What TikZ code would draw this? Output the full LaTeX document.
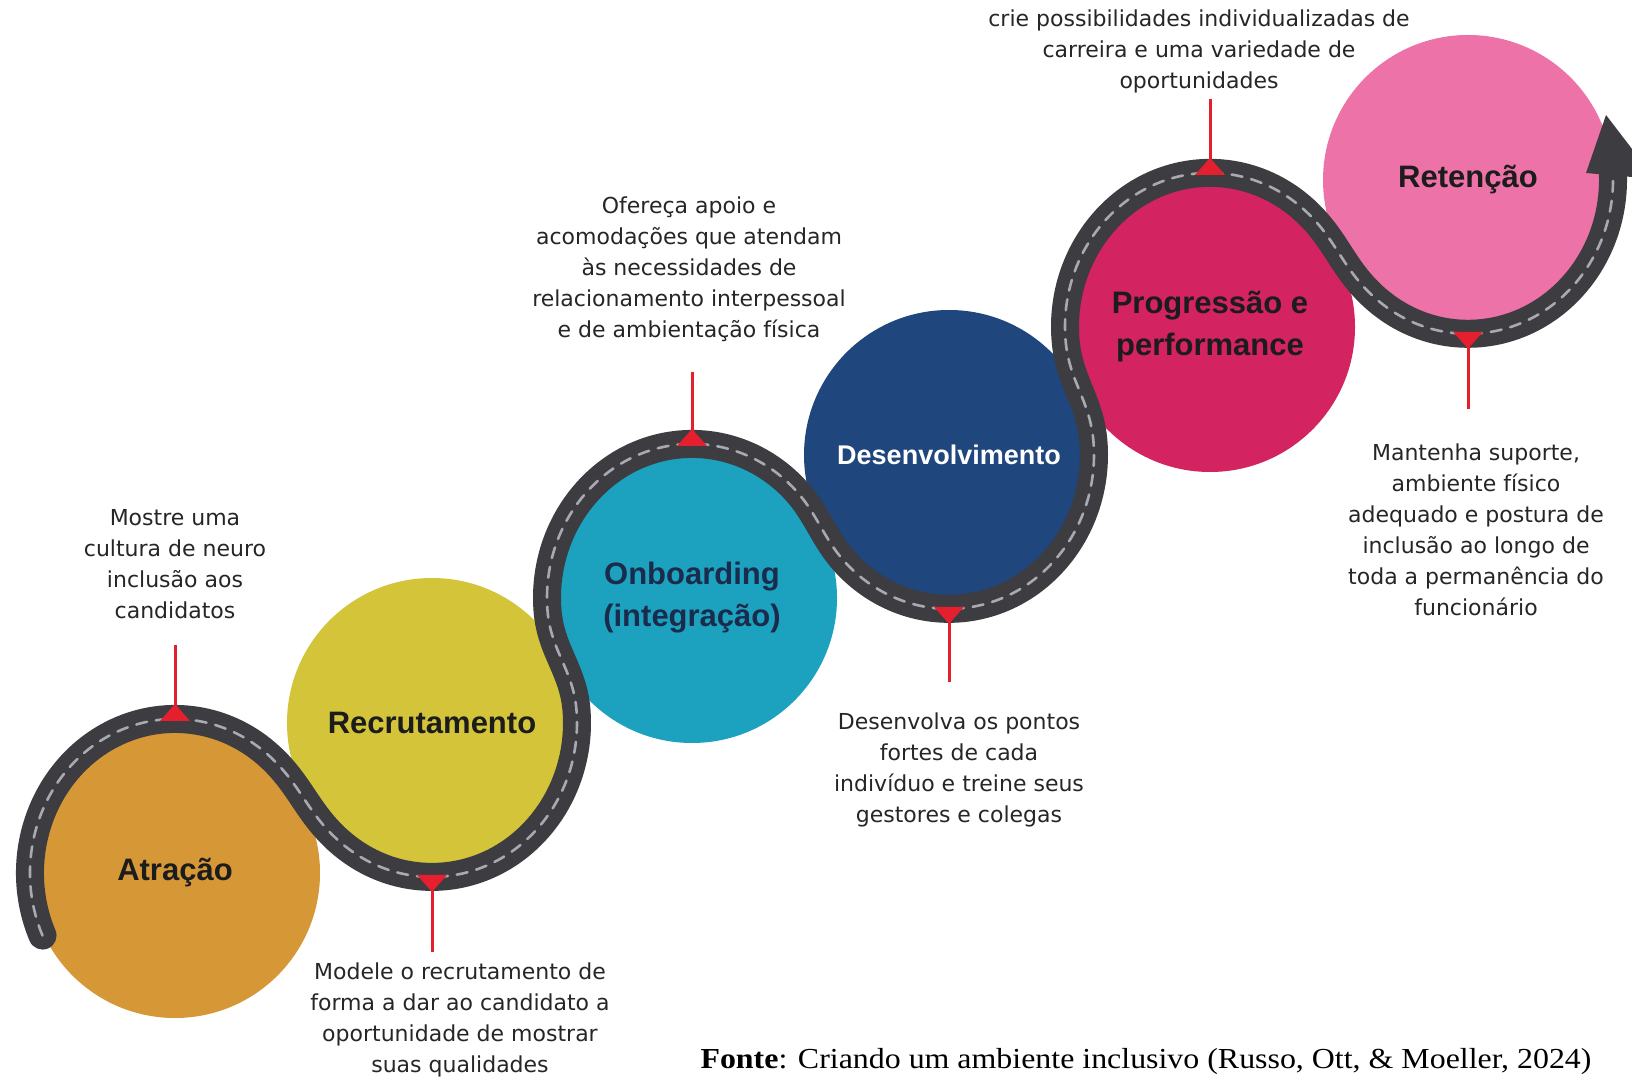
\documentclass[tikz,border=0pt]{standalone}
\usepackage{fontspec}
\usepackage{graphicx}
\setmainfont{Liberation Sans}
\newfontfamily\bodyf{DejaVu Sans}
\newfontfamily\labf{Liberation Sans}
\newfontfamily\capf{Liberation Serif}
\usetikzlibrary{calc}
\definecolor{cA}{HTML}{D69836}
\definecolor{cB}{HTML}{D4C43A}
\definecolor{cC}{HTML}{1CA2BE}
\definecolor{cD}{HTML}{1F467D}
\definecolor{cE}{HTML}{D32360}
\definecolor{cF}{HTML}{EC72A8}
\definecolor{roadc}{HTML}{3C3C41}
\definecolor{dashc}{HTML}{A9A9B2}
\definecolor{markred}{HTML}{E5202E}
\definecolor{bodyc}{HTML}{262626}
\definecolor{labdark}{HTML}{1C1C1C}
\definecolor{labnavy}{HTML}{1B2B4B}
\begin{document}
\begin{tikzpicture}[x=1pt,y=1pt,
  stage/.style={circle, minimum size=290pt, inner sep=0pt, align=center,
    font=\labf\bfseries\fontsize{31}{42}\selectfont, text=labdark},
  bodytxt/.style={font=\bodyf\fontsize{22}{31}\selectfont, text=bodyc, align=center, inner sep=0pt},
  roadline/.style={draw=roadc, line width=28pt, line cap=round,
    postaction={draw=dashc, line width=2.6pt, dash pattern=on 11pt off 9pt}},
  redline/.style={draw=markred, line width=3pt},
  redtri/.style={fill=markred}]
\useasboundingbox (0,0) rectangle (1632,1077);
\clip (0,0) rectangle (1632,1077);
\fill[white] (0,0) rectangle (1632,1077);

% stages
\node[stage, fill=cA] (A) at (175,204) {Atração};
\node[stage, fill=cB] (B) at (432,354) {Recrutamento};
\node[stage, fill=cC, text=labnavy] (C) at (692,479) {Onboarding\\(integração)};
\node[stage, fill=cD, text=white, font=\labf\bfseries\fontsize{27}{32}\selectfont] (D) at (949,622) {Desenvolvimento};
\node[stage, fill=cE] (E) at (1210,750) {Progressão e\\performance};
\node[stage, fill=cF] (F) at (1468,897) {Retenção};

% road geometry (circles of radius 145, stretched vertically)
\def\ys{1.062}
\pgfmathsetmacro{\rr}{145}
\pgfmathsetmacro{\g}{20}
\pgfmathsetmacro{\pAB}{atan2((354-204)/\ys,432-175)}
\pgfmathsetmacro{\pBC}{atan2((479-354)/\ys,692-432)}
\pgfmathsetmacro{\pCD}{atan2((622-479)/\ys,949-692)}
\pgfmathsetmacro{\pDE}{atan2((750-622)/\ys,1210-949)}
\pgfmathsetmacro{\pEF}{atan2((897-750)/\ys,1468-1210)}
\pgfmathsetmacro{\tAo}{\pAB+\g}
\pgfmathsetmacro{\tBi}{\tAo+180}
\pgfmathsetmacro{\tBo}{\pBC-\g+360}
\pgfmathsetmacro{\tCi}{\pBC-\g+180}
\pgfmathsetmacro{\tCo}{\pCD+\g}
\pgfmathsetmacro{\tDi}{\tCo+180}
\pgfmathsetmacro{\tDo}{\pDE-\g+360}
\pgfmathsetmacro{\tEi}{\pDE-\g+180}
\pgfmathsetmacro{\tEo}{\pEF+\g}
\pgfmathsetmacro{\tFi}{\tEo+180}
\pgfmathsetmacro{\oAB}{\tAo-90}
\pgfmathsetmacro{\iAB}{\tAo+90}
\pgfmathsetmacro{\oBC}{\tBo+90}
\pgfmathsetmacro{\iBC}{\tBo-90}
\pgfmathsetmacro{\oCD}{\tCo-90}
\pgfmathsetmacro{\iCD}{\tCo+90}
\pgfmathsetmacro{\oDE}{\tDo+90}
\pgfmathsetmacro{\iDE}{\tDo-90}
\pgfmathsetmacro{\oEF}{\tEo-90}
\pgfmathsetmacro{\iEF}{\tEo+90}

\begin{scope}[yscale=\ys]
\coordinate (Am) at (175,204/\ys);
\coordinate (Bm) at (432,354/\ys);
\coordinate (Cm) at (692,479/\ys);
\coordinate (Dm) at (949,622/\ys);
\coordinate (Em) at (1210,750/\ys);
\coordinate (Fm) at (1468,897/\ys);
\coordinate (rs) at ($(Am)+(204:\rr)$);
\path[roadline] (rs)
  arc[start angle=204, end angle=\tAo, radius=\rr]
  to[out=\oAB, in=\iAB] ($(Bm)+(\tBi:\rr)$)
  arc[start angle=\tBi, end angle=\tBo, radius=\rr]
  to[out=\oBC, in=\iBC] ($(Cm)+(\tCi:\rr)$)
  arc[start angle=\tCi, end angle=\tCo, radius=\rr]
  to[out=\oCD, in=\iCD] ($(Dm)+(\tDi:\rr)$)
  arc[start angle=\tDi, end angle=\tDo, radius=\rr]
  to[out=\oDE, in=\iDE] ($(Em)+(\tEi:\rr)$)
  arc[start angle=\tEi, end angle=\tEo, radius=\rr]
  to[out=\oEF, in=\iEF] ($(Fm)+(\tFi:\rr)$)
  arc[start angle=\tFi, end angle=364, radius=\rr];
\coordinate (mA) at ($(Am)+(0,\rr)$);
\coordinate (mB) at ($(Bm)+(0,-\rr)$);
\coordinate (mC) at ($(Cm)+(0,\rr)$);
\coordinate (mD) at ($(Dm)+(0,-\rr)$);
\coordinate (mE) at ($(Em)+(0,\rr)$);
\coordinate (mF) at ($(Fm)+(0,-\rr)$);
\end{scope}
% arrow head
\fill[roadc] ($(F)+(118,7)$) -- ($(F)+(138,65)$) -- ($(F)+(187,1)$) -- cycle;

% markers
\coordinate (lA) at (175,432);
\coordinate (lB) at (432,125);
\coordinate (lC) at (692,705);
\coordinate (lD) at (949,395);
\coordinate (lE) at (1210,978);
\coordinate (lF) at (1468,668);
\draw[redline] (mA) -- (lA);
\draw[redline] (mB) -- (lB);
\draw[redline] (mC) -- (lC);
\draw[redline] (mD) -- (lD);
\draw[redline] (mE) -- (lE);
\draw[redline] (mF) -- (lF);
\foreach \m in {mA,mC,mE}{
  \fill[redtri] ($(\m)+(-15,-2)$) -- ($(\m)+(15,-2)$) -- ($(\m)+(0,15)$) -- cycle;}
\foreach \m in {mB,mD,mF}{
  \fill[redtri] ($(\m)+(-15,2)$) -- ($(\m)+(15,2)$) -- ($(\m)+(0,-15)$) -- cycle;}

% texts
\node[bodytxt] (tA) at (175,513) {Mostre uma\\cultura de neuro\\inclusão aos\\candidatos};
\node[bodytxt] (tB) at (460,57) {Modele o recrutamento de\\forma a dar ao candidato a\\oportunidade de mostrar\\suas qualidades};
\node[bodytxt] (tC) at (689,808) {Ofereça apoio e\\acomodações que atendam\\às necessidades de\\relacionamento interpessoal\\e de ambientação física};
\node[bodytxt] (tD) at (959,307) {Desenvolva os pontos\\fortes de cada\\indivíduo e treine seus\\gestores e colegas};
\node[bodytxt] (tE) at (1199,1026) {crie possibilidades individualizadas de\\carreira e uma variedade de\\oportunidades};
\node[bodytxt] (tF) at (1476,547) {Mantenha suporte,\\ambiente físico\\adequado e postura de\\inclusão ao longo de\\toda a permanência do\\funcionário};

% caption
\node[inner sep=0pt, text=black, font=\capf\fontsize{29}{32}\selectfont] (cap) at (1146,15)
  {\scalebox{1.1}[1]{\textbf{Fonte}: Criando um ambiente inclusivo (Russo, Ott, \& Moeller, 2024)}};
\end{tikzpicture}
\end{document}
